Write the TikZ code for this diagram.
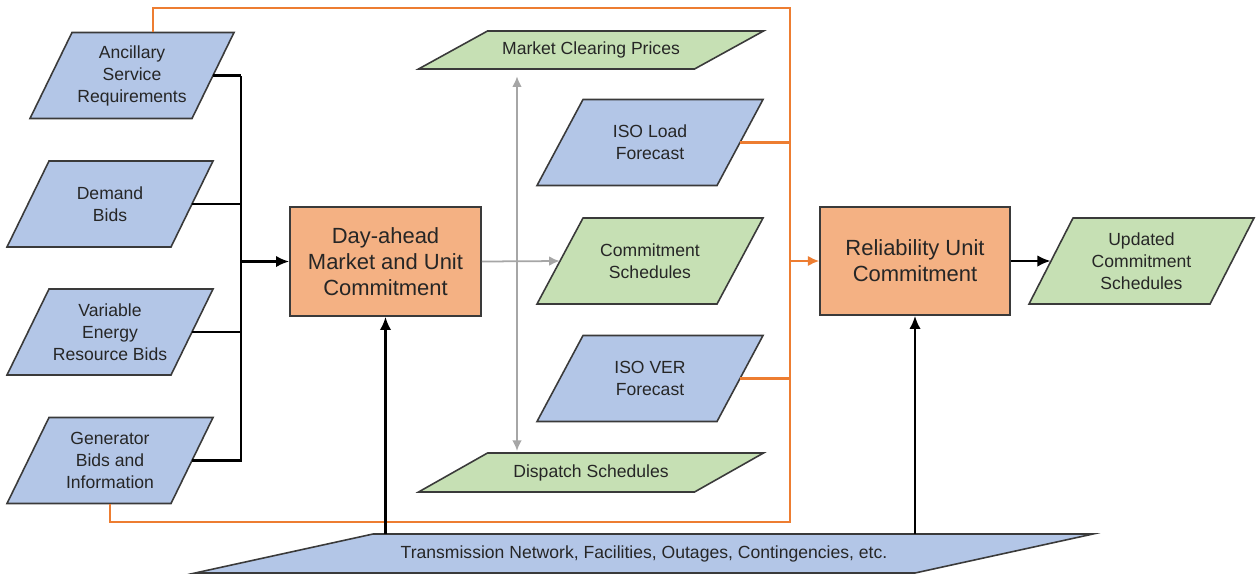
\documentclass[tikz,border=0pt]{standalone}
\usepackage{fontspec}
\setmainfont{Liberation Sans}
\usetikzlibrary{arrows.meta,calc}

\definecolor{inblue}{HTML}{B3C6E7}
\definecolor{outgreen}{HTML}{C6E0B4}
\definecolor{procorange}{HTML}{F4B183}
\definecolor{linkorange}{HTML}{ED7D31}
\definecolor{edge}{HTML}{3A3A3A}
\definecolor{txt}{HTML}{262626}
\definecolor{softgray}{HTML}{A6A6A6}

\tikzset{
  skewtext/.style={inner sep=0pt, align=center, text=txt,
    font=\fontsize{10}{12.5}\selectfont},
  procbox/.style={draw=edge, line width=0.9pt, fill=procorange, inner sep=0pt,
    align=center, text=txt, font=\fontsize{12.5}{14.7}\selectfont},
  blackflow/.style={draw=black, line width=1.3pt},
  blackarrow/.style={blackflow, -{Latex[length=7.5pt,width=6.5pt]}},
  orangeflow/.style={draw=linkorange, line width=1.2pt},
  orangearrow/.style={orangeflow, -{Latex[length=6.5pt,width=6pt]}},
  grayflow/.style={draw=softgray, line width=1pt},
}

% \skewbox{name}{cx}{cy}{half width at mid}{half height}{half slant}{fill}{text}
\newcommand\skewbox[8]{%
  \filldraw[fill=#7, draw=edge, line width=0.9pt]
    ({#2-#4+#6},{#3-#5}) -- ({#2+#4+#6},{#3-#5}) --
    ({#2+#4-#6},{#3+#5}) -- ({#2-#4-#6},{#3+#5}) -- cycle;
  \node[skewtext, minimum width={2*#4*0.02cm}, minimum height={2*#5*0.02cm}]
    (#1) at (#2,#3) {#8};%
}

\begin{document}
\begin{tikzpicture}[x=0.02cm, y=-0.02cm]
\useasboundingbox[fill=white] (0,0) rectangle (1257,576);

% inputs on the left
\skewbox{anc}{132}{75.5}{81}{43}{21}{inblue}{Ancillary\\Service\\Requirements}
\skewbox{dem}{110}{204}{82}{43}{21}{inblue}{Demand\\Bids}
\skewbox{ver}{110}{332}{82}{43}{21}{inblue}{Variable\\Energy\\Resource Bids}
\skewbox{gen}{110}{460.5}{82}{43}{21}{inblue}{Generator\\Bids and\\Information}

% day-ahead results and ISO forecasts
\skewbox{mcp}{591}{50}{138}{19}{34.5}{outgreen}{Market Clearing Prices}
\skewbox{isl}{650}{142.5}{90}{43}{23}{inblue}{ISO Load\\Forecast}
\skewbox{cs}{650}{261}{90}{43}{23}{outgreen}{Commitment\\Schedules}
\skewbox{isv}{650}{378.5}{90}{43}{23}{inblue}{ISO VER\\Forecast}
\skewbox{ds}{591}{472.5}{138}{19.5}{34.5}{outgreen}{Dispatch Schedules}

% final output and network data
\skewbox{upd}{1141.5}{261}{90.5}{43}{22}{outgreen}{Updated\\Commitment\\Schedules}
\skewbox{tr}{644}{553.5}{360}{19.5}{89}{inblue}{Transmission Network, Facilities, Outages, Contingencies, etc.}

% processes
\node[procbox, minimum width={191*0.02cm}, minimum height={109*0.02cm}]
  (da) at (385.5,261.5) {Day-ahead\\Market and Unit\\Commitment};
\node[procbox, minimum width={190*0.02cm}, minimum height={108*0.02cm}]
  (rel) at (915,261) {Reliability Unit\\Commitment};

% bus collecting the day-ahead inputs
\coordinate (bt) at (241,77);
\coordinate (bb) at (241,461);
\draw[blackflow] (anc.east) -- (anc.east -| bt);
\draw[blackflow] (dem.east) -- (dem.east -| bt);
\draw[blackflow] (ver.east) -- (ver.east -| bt);
\draw[blackflow] (gen.east) -- (gen.east -| bt);
\draw[blackflow, line cap=rect] (bt) -- (bb);
\draw[blackarrow] (bt |- da.west) -- (da.west);

% day-ahead outputs
\coordinate (gx) at (517,0);
\draw[grayflow, -{Latex[length=6pt,width=5.5pt]}] (da.east) -- (cs.west);
\draw[grayflow, {Latex[length=6pt,width=5.5pt]}-{Latex[length=6pt,width=5.5pt]},
  shorten <=4pt, shorten >=1pt] (gx |- mcp.south) -- (gx |- ds.north);

% loop feeding the reliability commitment
\coordinate (ob) at (790,522);
\coordinate (ot) at (790,8);
\draw[orangeflow] (gen.south) |- (ob) -- (ot) -| ([xshift=0.42cm]anc.north);
\draw[orangeflow] (isl.east) -- (isl.east -| ot);
\draw[orangeflow] (isv.east) -- (isv.east -| ot);
\draw[orangearrow] (ot |- rel.west) -- (rel.west);

% reliability output and network data
\draw[blackarrow] (rel.east) -- (upd.west);
\draw[blackarrow] (tr.north -| da.south) -- (da.south);
\draw[blackarrow] (tr.north -| rel.south) -- (rel.south);
\end{tikzpicture}
\end{document}
